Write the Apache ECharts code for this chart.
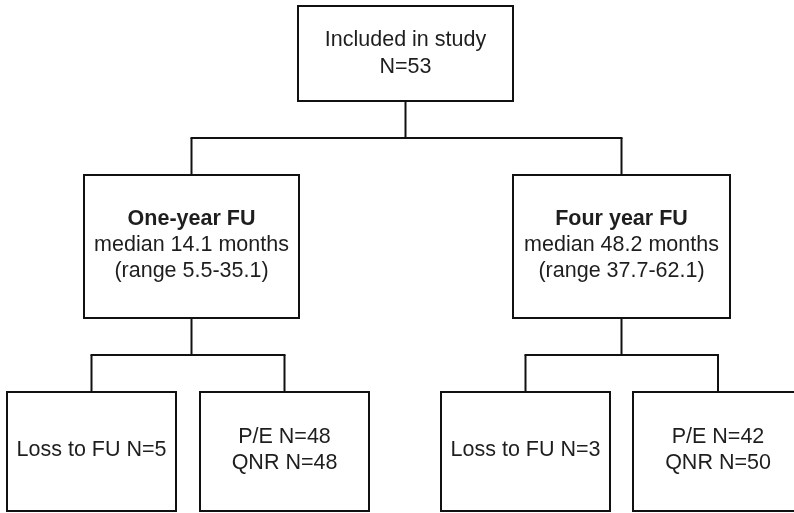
<!DOCTYPE html>
<html>
<head>
<meta charset="utf-8">
<script src="https://cdn.jsdelivr.net/npm/echarts@6/dist/echarts.min.js"></script>
<style>
html,body{margin:0;padding:0;background:#fff;overflow:hidden;}
#chart{width:794px;height:513px;}
</style>
</head>
<body>
<div id="chart"></div>
<script>
// ---- data ----
const totalN = 53;
const groupNames = ['One-year FU', 'Four year FU'];
const medianMonths = [14.1, 48.2];
const rangeLow = [5.5, 37.7];
const rangeHigh = [35.1, 62.1];
const lossN = [5, 3];
const peN = [48, 42];
const qnrN = [48, 50];

// ---- tree structure ----
const parentOf = [-1, 0, 0, 1, 1, 2, 2];
const levelOf = [0, 1, 1, 2, 2, 2, 2];

// ---- layout (axis units) ----
const AXIS_W = 794, AXIS_H = 513;
const boxSpanX = [[298, 513], [84, 299], [513, 730], [7, 176], [200, 369], [441, 610], [633, 803]];
const levelSpanY = [[6, 101], [175, 318], [392, 511]];

const nodeText = [
  'Included in study\nN=' + totalN,
  '{b|' + groupNames[0] + '}\nmedian ' + medianMonths[0] + ' months\n(range ' + rangeLow[0] + '-' + rangeHigh[0] + ')',
  '{b|' + groupNames[1] + '}\nmedian ' + medianMonths[1] + ' months\n(range ' + rangeLow[1] + '-' + rangeHigh[1] + ')',
  'Loss to FU N=' + lossN[0],
  'P/E N=' + peN[0] + '\nQNR N=' + qnrN[0],
  'Loss to FU N=' + lossN[1],
  'P/E N=' + peN[1] + '\nQNR N=' + qnrN[1]
];

const FONT = '"Liberation Sans", Arial, Helvetica, sans-serif';
const LINE = '#111';
const TEXT = '#1e1e1e';
const FS = 21.5;

const chart = echarts.init(document.getElementById('chart'), null, {renderer: 'canvas'});

function cx(i) { return (boxSpanX[i][0] + boxSpanX[i][1]) / 2; }

function renderNode(params, api) {
  const i = api.value(0);
  const lv = levelOf[i];
  const p0 = api.coord([boxSpanX[i][0], levelSpanY[lv][0]]);
  const sz = api.size([boxSpanX[i][1] - boxSpanX[i][0], levelSpanY[lv][1] - levelSpanY[lv][0]]);
  const c = [p0[0] + sz[0] / 2, p0[1] + sz[1] / 2];
  const x1 = p0[0], y1 = p0[1], x2 = p0[0] + sz[0], y2 = p0[1] + sz[1];
  const clipped = boxSpanX[i][1] > AXIS_W;
  const outline = clipped
    ? {type: 'polyline', shape: {points: [[x2 + 20, y1], [x1, y1], [x1, y2], [x2 + 20, y2]]}, style: {fill: null, stroke: LINE, lineWidth: 2}}
    : {type: 'polygon', shape: {points: [[x1, y1], [x2, y1], [x2, y2], [x1, y2]]}, style: {fill: null, stroke: LINE, lineWidth: 2}};
  return {
    type: 'group',
    children: [
      {
        type: 'rect',
        shape: {x: x1, y: y1, width: sz[0], height: sz[1]},
        style: {fill: '#fff', lineWidth: 0}
      },
      outline,
      {
        type: 'text',
        x: c[0], y: c[1] - (lv === 1 ? 1.5 : (lv === 2 ? 1 : 0)),
        style: {
          text: nodeText[i],
          fill: TEXT,
          fontSize: FS,
          fontFamily: FONT,
          lineHeight: lv === 0 ? 27 : 26,
          align: 'center',
          verticalAlign: 'middle',
          rich: {
            b: {fontWeight: 'bold', fontSize: FS, fontFamily: FONT, fill: TEXT, lineHeight: 26}
          }
        }
      }
    ]
  };
}

const parents = [];
parentOf.forEach(function (p) { if (p >= 0 && parents.indexOf(p) < 0) parents.push(p); });

function renderLinks(params, api) {
  const p = api.value(0);
  const kids = [];
  parentOf.forEach(function (q, k) { if (q === p) kids.push(k); });
  const plv = levelOf[p];
  const clv = levelOf[kids[0]];
  const yBottom = levelSpanY[plv][1];
  const yTop = levelSpanY[clv][0];
  const yFork = (yBottom + yTop) / 2;
  const children = [];
  const pt = function (x, y) { return api.coord([x, y]); };
  const st = {stroke: LINE, lineWidth: 2};
  const s0 = pt(cx(p), yBottom), s1 = pt(cx(p), yFork);
  children.push({type: 'line', shape: {x1: s0[0], y1: s0[1], x2: s1[0], y2: s1[1]}, style: st});
  const xs = kids.map(cx);
  const a = pt(Math.min.apply(null, xs), yFork), b = pt(Math.max.apply(null, xs), yFork);
  children.push({type: 'line', shape: {x1: a[0] - 1, y1: a[1], x2: b[0] + 1, y2: b[1]}, style: st});
  kids.forEach(function (k) {
    const s = pt(cx(k), yFork), e = pt(cx(k), yTop);
    children.push({type: 'line', shape: {x1: s[0], y1: s[1], x2: e[0], y2: e[1]}, style: st});
  });
  return {type: 'group', children: children};
}

chart.setOption({
  animation: false,
  backgroundColor: '#fff',
  grid: {left: 0, right: 0, top: 0, bottom: 0},
  xAxis: {type: 'value', min: 0, max: AXIS_W, show: false},
  yAxis: {type: 'value', min: 0, max: AXIS_H, inverse: true, show: false},
  series: [
    {type: 'custom', renderItem: renderLinks, data: parents.map(function (p) { return [p]; }), clip: false, silent: true, z: 1},
    {type: 'custom', renderItem: renderNode, data: parentOf.map(function (_, i) { return [i]; }), clip: false, silent: true, z: 2}
  ]
});
</script>
</body>
</html>
